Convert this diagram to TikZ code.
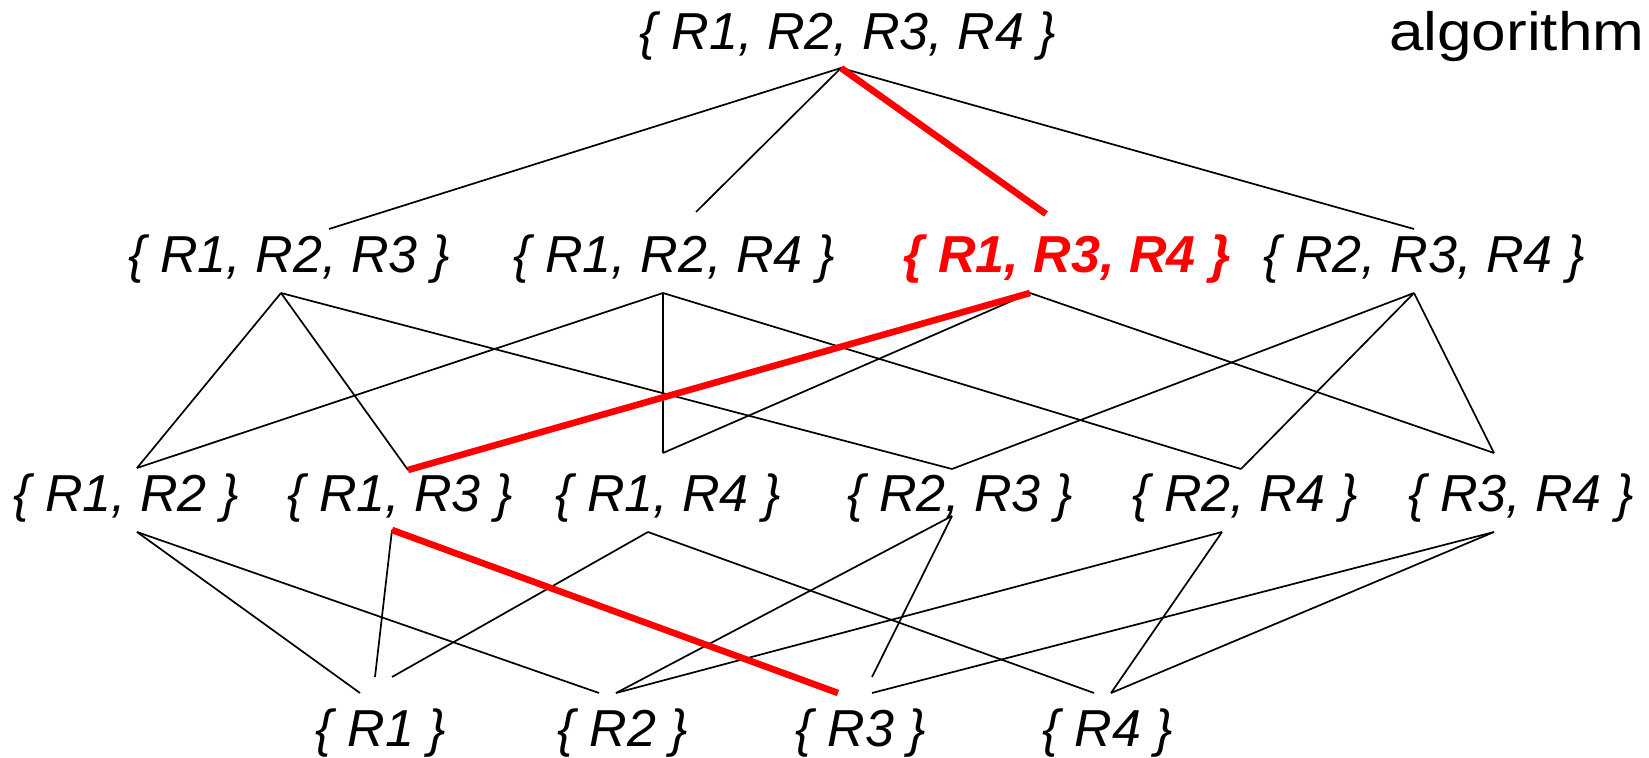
\documentclass[tikz,border=0pt]{standalone}
\usepackage{fontspec}
\setmainfont{Liberation Sans}
\usetikzlibrary{calc}
\definecolor{PathRed}{HTML}{FF0000}

\begin{document}
\begin{tikzpicture}[x=.5pt,y=-.5pt,
 set/.style={anchor=base,inner sep=0pt,font=\itshape\fontsize{26}{30}\selectfont},
 best/.style={set,text=PathRed,font=\bfseries\itshape\fontsize{26}{30}\selectfont},
 edge/.style={line width=.85pt,draw=black},
 chosen/.style={line width=3.3pt,draw=PathRed}]
\useasboundingbox (0,0) rectangle (1649,758);
% lattice of subsets
\node[set] (s1234) at (848,50) {\{ R1, R2, R3, R4 \}};
\node[anchor=base east,inner sep=0pt,font=\fontsize{27}{30}\selectfont,xscale=1.15] (title) at (1645,51) {algorithm};
\node[set] (s123) at (289,273) {\{ R1, R2, R3 \}};
\node[set] (s124) at (674,273) {\{ R1, R2, R4 \}};
\node[best] (s134) at (1067,273) {\{ R1, R3, R4 \}};
\node[set] (s234) at (1424,273) {\{ R2, R3, R4 \}};
\node[set] (s12) at (126,512) {\{ R1, R2 \}};
\node[set] (s13) at (400,512) {\{ R1, R3 \}};
\node[set] (s14) at (668,512) {\{ R1, R4 \}};
\node[set] (s23) at (960,512) {\{ R2, R3 \}};
\node[set] (s24) at (1245,512) {\{ R2, R4 \}};
\node[set] (s34) at (1521,512) {\{ R3, R4 \}};
\node[set] (s1) at (381,746) {\{ R1 \}};
\node[set] (s2) at (623,746) {\{ R2 \}};
\node[set] (s3) at (861,746) {\{ R3 \}};
\node[set] (s4) at (1108,746) {\{ R4 \}};
% where the lines meet the sets
\coordinate (s1234-b) at (841,68);
\coordinate (s123-t) at (329,229); \coordinate (s123-b) at (281,293);
\coordinate (s124-t) at (696,212); \coordinate (s124-b) at (663,293);
\coordinate (s134-t) at (1046,214); \coordinate (s134-b) at (1030,293);
\coordinate (s234-t) at (1414,229); \coordinate (s234-b) at (1414,293);
\coordinate (s12-t) at (137,468); \coordinate (s12-b) at (137,532);
\coordinate (s13-t) at (408,470); \coordinate (s13-b) at (392,530);
\coordinate (s14-t) at (663,453); \coordinate (s14-b) at (648,532);
\coordinate (s23-t) at (952,469); \coordinate (s23-b) at (952,516);
\coordinate (s24-t) at (1241,469); \coordinate (s24-b) at (1222,532);
\coordinate (s34-t) at (1494,453); \coordinate (s34-b) at (1494,532);
\coordinate (s1-a) at (360,693); \coordinate (s1-b) at (375,677); \coordinate (s1-c) at (392,677);
\coordinate (s2-a) at (599,693); \coordinate (s2-b) at (616,693);
\coordinate (s3-a) at (838,693); \coordinate (s3-b) at (872,677); \coordinate (s3-c) at (872,693);
\coordinate (s4-a) at (1094,693); \coordinate (s4-b) at (1111,693);
% edges
\foreach \a/\b in {s1234-b/s123-t,s1234-b/s124-t,s1234-b/s234-t,
 s123-b/s12-t,s123-b/s13-t,s123-b/s23-t,
 s124-b/s12-t,s124-b/s14-t,s124-b/s24-t,
 s134-b/s14-t,s134-b/s34-t,
 s234-b/s23-t,s234-b/s24-t,s234-b/s34-t,
 s12-b/s1-a,s12-b/s2-a,s13-b/s1-b,s14-b/s1-c,s14-b/s4-a,
 s23-b/s2-b,s23-b/s3-b,s24-b/s2-b,s24-b/s4-b,s34-b/s3-c,s34-b/s4-b}
 \draw[edge] (\a) -- (\b);
\draw[chosen] (s1234-b) -- (s134-t);
\draw[chosen] (s134-b) -- (s13-t);
\draw[chosen] (s13-b) -- (s3-a);
\end{tikzpicture}
\end{document}
